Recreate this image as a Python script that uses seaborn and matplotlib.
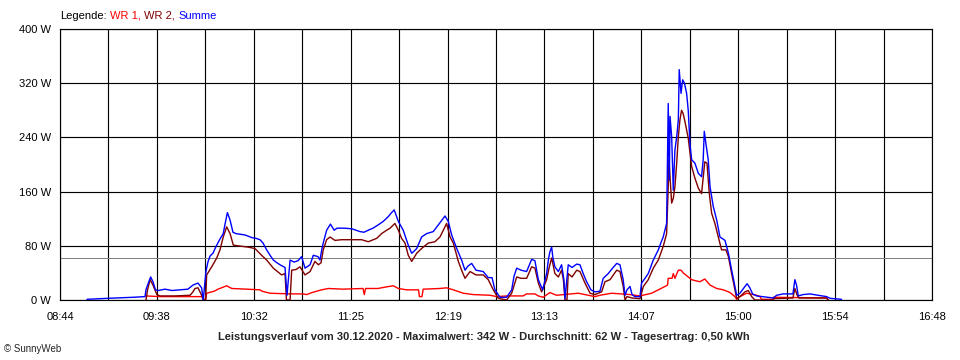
import numpy as np
import pandas as pd
import matplotlib
matplotlib.use("Agg")
import matplotlib.pyplot as plt
import seaborn as sns

# ---- data: time in minutes after midnight, power in W ----
wr1_t = [571.7, 579.5, 603.5, 603.9, 604.8, 605.4, 609.6, 611.7, 614.6, 616.5, 619.3, 627.6, 635.0, 636.1,
         640.6, 651.7, 658.9, 660.9, 663.9, 669.2, 672.9, 681.1, 692.2, 692.9, 693.6, 700.5, 704.4, 709.0,
         711.8, 716.4, 723.0, 723.5, 724.9, 725.6, 734.9, 738.6, 742.3, 747.8, 753.4, 762.7, 766.4, 771.9,
         781.0, 783.0, 787.6, 789.5, 792.2, 794.3, 795.9, 799.6, 811.7, 820.9, 823.7, 830.2, 840.4, 845.9,
         852.4, 856.1, 859.8, 861.2, 861.6, 863.7, 864.4, 865.3, 867.2, 868.7, 869.9, 872.7, 874.6, 877.4,
         879.2, 881.9, 884.8, 888.5, 892.2, 895.9, 898.6, 899.6, 901.4, 905.1, 910.7, 912.5, 913.4, 919.7,
         919.9, 949.5, 950.4]
wr1_w = [6, 5, 5, 0, 0, 10, 13, 16, 19, 21, 17, 16, 15, 13,
         10, 9, 9, 8, 11, 15, 17, 16, 17, 8, 17, 17, 19, 21,
         17, 15, 15, 5, 5, 16, 17, 18, 15, 10, 8, 7, 5, 6,
         6, 9, 9, 6, 4, 8, 11, 7, 10, 5, 7, 10, 8, 6,
         10, 15, 20, 22, 32, 32, 39, 32, 44, 44, 40, 34, 30, 28,
         27, 31, 22, 17, 15, 11, 5, 1, 5, 10, 7, 5, 1, 1,
         4, 3, 0]

wr2_t = [571.7, 572.6, 574.0, 575.6, 576.7, 577.8, 579.5, 587.8, 596.2, 597.8, 598.9, 600.6, 602.6, 603.5,
         604.8, 605.4, 608.2, 611.0, 612.8, 614.6, 616.5, 618.4, 620.2, 622.8, 628.5, 632.2, 635.9, 638.7,
         642.4, 647.0, 648.9, 649.7, 651.7, 652.6, 655.0, 657.2, 660.0, 662.8, 665.5, 667.4, 668.9, 670.1,
         672.0, 673.9, 676.6, 680.3, 691.4, 695.1, 699.8, 702.5, 705.3, 707.2, 709.9, 711.8, 713.6, 715.5,
         717.3, 719.2, 722.0, 724.7, 728.4, 732.1, 734.9, 738.6, 740.5, 742.3, 745.1, 746.9, 748.8, 751.6,
         754.9, 758.9, 761.7, 764.5, 767.3, 771.9, 774.7, 777.5, 779.9, 783.0, 785.8, 787.6, 789.5, 791.3,
         794.1, 795.6, 796.9, 798.7, 800.6, 802.4, 803.4, 804.3, 805.4, 806.1, 808.2, 810.8, 812.6, 815.4,
         818.2, 820.9, 824.6, 826.5, 829.3, 833.0, 834.8, 836.6, 837.6, 838.7, 841.5, 845.9, 847.8, 850.5,
         853.3, 856.1, 858.8, 860.7, 861.6, 862.0, 862.6, 863.5, 864.4, 865.3, 866.3, 867.2, 868.1, 869.0,
         869.9, 870.9, 871.8, 872.7, 874.6, 876.4, 878.3, 880.1, 881.9, 883.1, 884.4, 885.7, 887.5, 889.4,
         891.2, 893.6, 895.0, 896.8, 898.6, 899.6, 901.4, 904.2, 906.0, 907.9, 909.7, 919.7, 920.3, 930.8,
         931.9, 933.0, 934.1, 949.5, 950.4]
wr2_w = [0, 15, 30, 22, 15, 8, 6, 6, 7, 12, 17, 18, 7, 0,
         0, 37, 49, 62, 74, 93, 108, 98, 81, 80, 78, 76, 66, 59,
         47, 37, 39, 0, 0, 44, 45, 49, 37, 42, 57, 52, 55, 74,
         89, 93, 88, 89, 89, 86, 91, 98, 103, 106, 113, 103, 91, 84,
         66, 57, 69, 76, 84, 86, 93, 113, 93, 84, 57, 44, 32, 42,
         37, 37, 30, 15, 2.5, 0, 10, 34, 32, 32, 49, 47, 25, 12,
         30, 49, 62, 39, 34, 44, 30, 0, 0, 39, 34, 44, 42, 25,
         10, 8, 12, 27, 30, 44, 42, 20, 0, 5, 3, 2, 20, 30,
         47, 59, 79, 98, 167, 207, 182, 143, 150, 167, 202, 241, 266, 280,
         275, 263, 251, 239, 197, 180, 165, 157, 204, 202, 157, 128, 113, 93,
         74, 74, 64, 39, 15, 2, 5, 12, 14, 5, 0, 0, 2, 3,
         17, 8, 3, 3, 0]

summe_t = [539.0, 550.6, 564.5, 571.2, 571.7, 572.6, 574.3, 575.6, 577.0, 578.4, 582.3, 586.2, 590.6, 595.0,
           597.8, 600.6, 602.6, 603.5, 605.0, 606.1, 607.3, 608.9, 610.6, 612.8, 614.6, 615.6, 616.9, 618.4,
           620.0, 621.7, 626.7, 630.6, 632.8, 635.0, 636.7, 638.7, 640.6, 642.4, 644.4, 646.1, 648.9, 650.0,
           651.7, 653.9, 656.1, 658.1, 660.0, 662.8, 664.6, 667.2, 668.3, 669.4, 670.1, 672.0, 674.1, 676.2,
           677.7, 682.2, 686.1, 690.5, 692.7, 695.1, 697.7, 700.7, 703.4, 706.2, 707.7, 709.5, 711.8, 714.5,
           717.3, 719.2, 720.5, 722.0, 724.7, 727.5, 731.2, 734.0, 736.0, 737.7, 739.5, 741.4, 744.2, 746.9,
           748.8, 750.4, 752.5, 754.9, 758.9, 761.7, 763.8, 765.4, 768.2, 771.9, 774.7, 776.0, 777.5, 779.9,
           783.0, 785.8, 787.6, 789.5, 791.9, 794.1, 795.1, 795.9, 796.9, 797.6, 798.7, 800.6, 802.4, 803.7,
           804.3, 806.1, 808.2, 810.8, 812.6, 814.4, 816.3, 818.7, 820.9, 823.7, 825.5, 828.3, 830.4, 833.0,
           834.8, 836.6, 837.6, 838.7, 840.4, 841.5, 843.1, 845.9, 846.8, 848.7, 850.5, 853.3, 856.1, 857.6,
           858.8, 860.7, 861.6, 862.2, 862.6, 863.5, 864.4, 865.3, 866.3, 867.2, 867.7, 868.7, 869.6, 870.6,
           871.8, 872.7, 873.7, 874.6, 876.4, 878.3, 880.1, 881.0, 881.6, 882.5, 883.8, 884.8, 886.6, 888.5,
           890.3, 893.1, 895.0, 896.8, 898.6, 899.6, 901.4, 904.2, 905.4, 906.9, 908.4, 910.7, 919.9, 921.8,
           925.4, 930.8, 931.9, 932.8, 933.8, 936.4, 940.3, 944.7, 949.5, 951.4, 957.8]
summe_w = [1, 2.5, 4, 5, 15, 22, 34, 27, 15, 14, 16, 14, 15, 16,
           22, 25, 18, 0, 42, 56, 65, 69, 79, 90, 98, 112, 129, 118,
           100, 98, 96, 92, 91, 89, 84, 74, 66, 59, 55, 52, 48, 7,
           59, 56, 58, 64, 47, 52, 66, 64, 59, 76, 84, 103, 112, 103,
           106, 106, 105, 101, 100, 103, 106, 111, 116, 123, 128, 133, 116, 103,
           81, 69, 72, 76, 93, 98, 101, 111, 118, 124, 116, 96, 76, 59,
           44, 50, 54, 44, 42, 33, 33, 15, 4, 4, 15, 35, 47, 44,
           42, 60, 58, 30, 15, 39, 60, 71, 78, 62, 49, 42, 52, 30,
           2, 52, 48, 53, 52, 39, 27, 15, 12, 13, 32, 39, 46, 54,
           52, 30, 7, 15, 20, 8, 5, 5, 25, 32, 39, 59, 74, 85,
           93, 113, 290, 177, 271, 241, 162, 221, 241, 266, 340, 305, 325, 320,
           305, 280, 229, 207, 202, 187, 182, 207, 249, 231, 207, 167, 138, 118,
           93, 88, 69, 44, 20, 7, 10, 20, 24, 18, 9, 6, 3, 7,
           9, 9, 30, 22, 6, 8, 9, 7, 5, 2.5, 1]

series_names = ["WR 1", "WR 2", "Summe"]
series_colors = ["#ff0000", "#800000", "#0000ff"]
x_tick_labels = ["08:44", "09:38", "10:32", "11:25", "12:19", "13:13", "14:07", "15:00", "15:54", "16:48"]
x_start, x_end = 524, 1008          # 08:44 .. 16:48 in minutes
y_ticks = [0, 80, 160, 240, 320, 400]
durchschnitt = 62
title = "Leistungsverlauf vom 30.12.2020 - Maximalwert: 342 W - Durchschnitt: 62 W - Tagesertrag: 0,50 kWh"
copyright_text = "© SunnyWeb"

# ---- build long table ----
df = pd.concat([
    pd.DataFrame({"t": wr1_t, "w": wr1_w, "serie": "WR 1"}),
    pd.DataFrame({"t": wr2_t, "w": wr2_w, "serie": "WR 2"}),
    pd.DataFrame({"t": summe_t, "w": summe_w, "serie": "Summe"}),
], ignore_index=True)

sns.set_style("white")
plt.rcParams["font.family"] = ["Liberation Sans", "DejaVu Sans"]

W, H = 960, 360
fig = plt.figure(figsize=(W / 100, H / 100), dpi=100)
ax = fig.add_axes([60 / W, 1 - 300 / H, (932 - 60) / W, (300 - 29) / H])

px = 0.72  # one pixel in points
ax.axhline(durchschnitt, color="#808080", linewidth=1.0 * px, zorder=1.5)

sns.lineplot(data=df, x="t", y="w", hue="serie", hue_order=series_names,
             palette=dict(zip(series_names, series_colors)),
             estimator=None, sort=False, legend=False, linewidth=1.4 * px, ax=ax, zorder=3)

ax.set_xlim(x_start, x_end)
ax.set_ylim(0, 400)
grid_x = np.linspace(x_start, x_end, 2 * len(x_tick_labels) - 1)
ax.set_xticks(grid_x)
lbls = []
for i in range(len(grid_x)):
    lbls.append(x_tick_labels[i // 2] if i % 2 == 0 else "")
ax.set_xticklabels(lbls)
ax.set_yticks(y_ticks)
ax.set_yticklabels([f"{v} W" for v in y_ticks])
ax.set_xlabel("")
ax.set_ylabel("")
ax.grid(True, color="black", linewidth=1.15 * px)
ax.set_axisbelow(True)
for s in ax.spines.values():
    s.set_color("black")
    s.set_linewidth(1.15 * px)
ax.tick_params(axis="both", length=5 * px, width=1.15 * px, color="black",
               labelsize=8, labelcolor="black")
ax.tick_params(axis="x", pad=7.5 * px)
ax.tick_params(axis="y", pad=4 * px)

# legend line (coloured text pieces)
fig.canvas.draw()
renderer = fig.canvas.get_renderer()
xpos = 60
parts = [("Legende:", "black")] + [(n + ("," if i < 2 else ""), c) for i, (n, c) in enumerate(zip(series_names, series_colors))]
for txt, col in parts:
    t = fig.text(xpos / W, 1 - 16 / H, txt, color=col, fontsize=8, ha="left", va="center")
    bb = t.get_window_extent(renderer)
    xpos = bb.x1 + 3.5

fig.text(484 / W, 1 - 337.5 / H, title, fontsize=8, fontweight="bold", ha="center", va="center")
fig.text(4 / W, 1 - 349 / H, copyright_text, fontsize=7, ha="left", va="center")

fig.savefig("out.png", dpi=100)
